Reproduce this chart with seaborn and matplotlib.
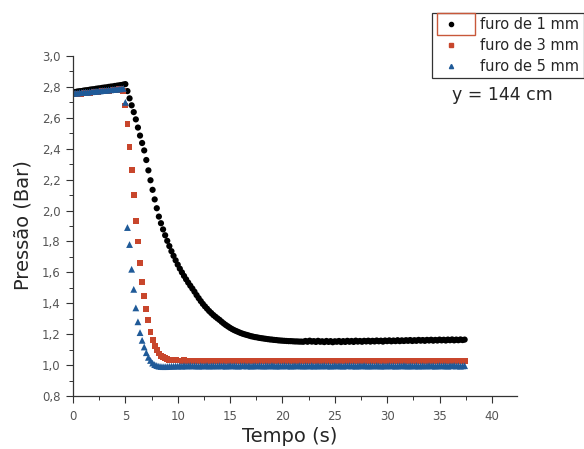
import numpy as np
import pandas as pd
import matplotlib
matplotlib.use("Agg")
import matplotlib.pyplot as plt
from matplotlib.lines import Line2D
from matplotlib.patches import Rectangle
from matplotlib.ticker import MultipleLocator, FuncFormatter
import seaborn as sns

# ---------------- data ----------------
series_names = ["furo de 1 mm", "furo de 3 mm", "furo de 5 mm"]
t_start = 0.0   # s
dt = 0.2        # s, sampling interval

p_1mm = [
    2.765, 2.767, 2.770, 2.772, 2.773, 2.776, 2.778, 2.779, 2.782, 2.784,
    2.785, 2.788, 2.790, 2.791, 2.794, 2.796, 2.797, 2.800, 2.802, 2.803,
    2.806, 2.808, 2.810, 2.812, 2.815, 2.818,
    2.773, 2.726, 2.681, 2.637, 2.590, 2.537, 2.485, 2.437, 2.389, 2.327,
    2.260, 2.196, 2.134, 2.072, 2.015, 1.961, 1.918, 1.878, 1.840, 1.804,
    1.770, 1.737, 1.707, 1.678, 1.650, 1.624, 1.600, 1.577, 1.555, 1.534,
    1.514, 1.495, 1.475, 1.453, 1.433, 1.414, 1.396, 1.380, 1.365, 1.350,
    1.337, 1.324, 1.313, 1.302, 1.292, 1.280, 1.269, 1.259, 1.250, 1.241,
    1.233, 1.226, 1.220, 1.214, 1.208, 1.203, 1.199, 1.195, 1.191, 1.187,
    1.184, 1.181, 1.179, 1.176, 1.174, 1.172, 1.170, 1.168, 1.166, 1.165,
    1.163, 1.162, 1.160, 1.159, 1.158, 1.157, 1.156, 1.155, 1.155, 1.154,
    1.153, 1.153, 1.152, 1.152, 1.151,
    1.156, 1.151, 1.158, 1.152, 1.155, 1.150, 1.157, 1.151, 1.154, 1.149,
    1.156, 1.150, 1.155, 1.148, 1.154, 1.151, 1.156, 1.149, 1.155, 1.150,
    1.157, 1.151, 1.156, 1.150, 1.158, 1.152, 1.156, 1.151, 1.157, 1.153,
    1.158, 1.152, 1.157, 1.153, 1.159, 1.154, 1.158, 1.152, 1.159, 1.155,
    1.160, 1.154, 1.159, 1.155, 1.161, 1.155, 1.160, 1.156, 1.161, 1.157,
    1.162, 1.156, 1.161, 1.157, 1.163, 1.158, 1.162, 1.157, 1.163, 1.159,
    1.164, 1.158, 1.163, 1.159, 1.165, 1.160, 1.164, 1.159, 1.165, 1.161,
    1.166, 1.160, 1.165, 1.161, 1.166, 1.162, 1.165,
]

p_3mm = [
    2.752, 2.754, 2.753, 2.756, 2.757, 2.758, 2.760, 2.761, 2.762, 2.764,
    2.765, 2.767, 2.768, 2.770, 2.771, 2.773, 2.774, 2.776, 2.777, 2.779,
    2.781, 2.782, 2.784, 2.786,
    2.775, 2.680, 2.560, 2.410, 2.260, 2.100, 1.935, 1.800, 1.660, 1.540,
    1.445, 1.365, 1.290, 1.215, 1.165, 1.125, 1.095, 1.075, 1.060, 1.050,
    1.043, 1.038, 1.035, 1.033, 1.032, 1.031, 1.030,
    1.030, 1.029, 1.031, 1.028, 1.030, 1.029, 1.027, 1.030, 1.028, 1.029,
    1.027, 1.029, 1.028, 1.030, 1.027, 1.028, 1.026, 1.029, 1.027, 1.028,
    1.026, 1.028, 1.027, 1.029, 1.026, 1.028, 1.027, 1.025, 1.028, 1.026,
    1.027, 1.029, 1.026, 1.028, 1.027, 1.025, 1.028, 1.026, 1.027, 1.029,
    1.026, 1.028, 1.027, 1.026, 1.029, 1.027, 1.028, 1.025, 1.027, 1.028,
    1.026, 1.029, 1.027, 1.028, 1.026, 1.028, 1.027, 1.029, 1.026, 1.028,
    1.027, 1.025, 1.028, 1.026, 1.029, 1.027, 1.028, 1.026, 1.027, 1.029,
    1.026, 1.028, 1.027, 1.029, 1.026, 1.028, 1.025, 1.027, 1.028, 1.026,
    1.029, 1.027, 1.028, 1.026, 1.027, 1.029, 1.026, 1.028, 1.027, 1.028,
    1.026, 1.029, 1.027, 1.028, 1.025, 1.027, 1.029, 1.026, 1.028, 1.027,
    1.028, 1.026, 1.029, 1.027, 1.028, 1.026, 1.027, 1.029, 1.026, 1.028,
    1.027, 1.029, 1.026, 1.028, 1.027, 1.025, 1.028, 1.027, 1.029, 1.026,
    1.028, 1.027, 1.029, 1.026, 1.028, 1.027, 1.028, 1.026, 1.029, 1.027,
    1.028, 1.026, 1.029, 1.027, 1.028, 1.026, 1.028,
]

p_5mm = [
    2.758, 2.760, 2.759, 2.762, 2.763, 2.764, 2.766, 2.765, 2.768, 2.769,
    2.770, 2.772, 2.773, 2.774, 2.776, 2.777, 2.778, 2.780, 2.781, 2.783,
    2.784, 2.785, 2.787, 2.788,
    2.790, 2.700, 1.890, 1.780, 1.620, 1.490, 1.370, 1.280, 1.210, 1.160,
    1.117, 1.080, 1.050, 1.030, 1.013, 1.003, 0.997, 0.993, 0.991, 0.990,
    0.990, 0.991, 0.992, 0.993, 0.993, 0.994, 0.994,
    0.995, 0.993, 0.996, 0.994, 0.995, 0.997, 0.994, 0.996, 0.995, 0.993,
    0.996, 0.994, 0.995, 0.997, 0.993, 0.995, 0.996, 0.994, 0.995, 0.997,
    0.994, 0.996, 0.993, 0.995, 0.997, 0.994, 0.996, 0.995, 0.993, 0.996,
    0.995, 0.997, 0.994, 0.996, 0.993, 0.995, 0.996, 0.994, 0.997, 0.995,
    0.993, 0.996, 0.995, 0.994, 0.997, 0.995, 0.993, 0.996, 0.994, 0.995,
    0.997, 0.994, 0.996, 0.993, 0.995, 0.996, 0.994, 0.997, 0.995, 0.993,
    0.996, 0.995, 0.994, 0.997, 0.993, 0.995, 0.996, 0.994, 0.995, 0.997,
    0.994, 0.996, 0.993, 0.995, 0.997, 0.994, 0.996, 0.995, 0.993, 0.996,
    0.995, 0.997, 0.994, 0.996, 0.993, 0.995, 0.996, 0.994, 0.997, 0.995,
    0.993, 0.996, 0.995, 0.994, 0.997, 0.995, 0.993, 0.996, 0.994, 0.995,
    0.997, 0.994, 0.996, 0.993, 0.995, 0.996, 0.994, 0.997, 0.995, 0.993,
    0.996, 0.995, 0.994, 0.997, 0.993, 0.995, 0.996, 0.994, 0.995, 0.997,
    0.994, 0.996, 0.993, 0.995, 0.997, 0.994, 0.996, 0.995, 0.993, 0.996,
    0.995, 0.997, 0.994, 0.996, 0.993, 0.995, 0.996,
]

x_ticks = [0, 5, 10, 15, 20, 25, 30, 35, 40]
y_ticks = [0.8, 1.0, 1.2, 1.4, 1.6, 1.8, 2.0, 2.2, 2.4, 2.6, 2.8, 3.0]
x_label = "Tempo (s)"
y_label = "Pressão (Bar)"
annotation = "y = 144 cm"

# ---------------- build table ----------------
frames = []
for name, vals in zip(series_names, [p_1mm, p_3mm, p_5mm]):
    n = len(vals)
    frames.append(pd.DataFrame({
        "Tempo": np.round(t_start + dt * np.arange(n), 2),
        "Pressao": vals,
        "serie": name,
    }))
df = pd.concat(frames, ignore_index=True)

colors = {series_names[0]: "#000000",
          series_names[1]: "#c8462c",
          series_names[2]: "#1f5a98"}
markers = {series_names[0]: "o", series_names[1]: "s", series_names[2]: "^"}
sizes = {series_names[0]: 20, series_names[1]: 18, series_names[2]: 24}

# ---------------- plot ----------------
sns.set_style("ticks")
plt.rcParams["font.family"] = ["DejaVu Sans"]

fig = plt.figure(figsize=(5.84, 4.49), dpi=100)
ax = fig.add_axes([73 / 584, 1 - 396 / 449, (517 - 73) / 584, (396 - 56) / 449])

for name in series_names:
    sub = df[df["serie"] == name]
    sns.scatterplot(data=sub, x="Tempo", y="Pressao", color=colors[name],
                    marker=markers[name], s=sizes[name], linewidth=0,
                    edgecolor="none", legend=False, ax=ax)

ax.set_xlim(0, 42.4)
ax.set_ylim(0.8, 3.0)
ax.set_xticks(x_ticks)
ax.set_yticks(y_ticks)
ax.xaxis.set_minor_locator(MultipleLocator(2.5))
ax.yaxis.set_minor_locator(MultipleLocator(0.1))
ax.yaxis.set_major_formatter(FuncFormatter(lambda v, p: f"{v:.1f}".replace(".", ",")))
ax.tick_params(axis="both", which="major", direction="out", length=5,
               width=0.8, labelsize=8.5, labelcolor="#555555", color="#333333",
               pad=4)
ax.tick_params(axis="x", which="major", pad=5)
ax.tick_params(axis="both", which="minor", direction="out", length=3,
               width=0.7, color="#333333")
for side in ["top", "right"]:
    ax.spines[side].set_visible(False)
for side in ["left", "bottom"]:
    ax.spines[side].set_color("#333333")
    ax.spines[side].set_linewidth(0.9)

ax.set_xlabel(x_label, fontsize=14)
ax.set_ylabel(y_label, fontsize=14)
ax.xaxis.set_label_coords(290 / 584, 1 - 437 / 449, transform=fig.transFigure)
ax.yaxis.set_label_coords(23 / 584, 1 - 225 / 449, transform=fig.transFigure)
ax.xaxis.label.set_va("center")
ax.yaxis.label.set_va("center")

handles = [Line2D([], [], linestyle="none", marker=markers[n], color=colors[n],
                  markersize=3) for n in series_names]
leg = fig.legend(handles, series_names, loc="upper left",
                 bbox_to_anchor=(432 / 584, 1 - 13 / 449),
                 bbox_transform=fig.transFigure, fontsize=10.5,
                 frameon=True, fancybox=False, edgecolor="black",
                 handlelength=2.0, handletextpad=1.0, borderpad=0.3,
                 labelspacing=0.4, borderaxespad=0)
leg.get_frame().set_linewidth(0.9)

rect = Rectangle((437 / 584, 1 - 35 / 449), 38 / 584, 22 / 449,
                 transform=fig.transFigure, fill=False,
                 edgecolor="#c8583a", linewidth=1.0, zorder=20)
fig.add_artist(rect)

fig.text(502 / 584, 1 - 95 / 449, annotation, ha="center", va="center",
         fontsize=12.5)

fig.savefig("out.png", dpi=100)
